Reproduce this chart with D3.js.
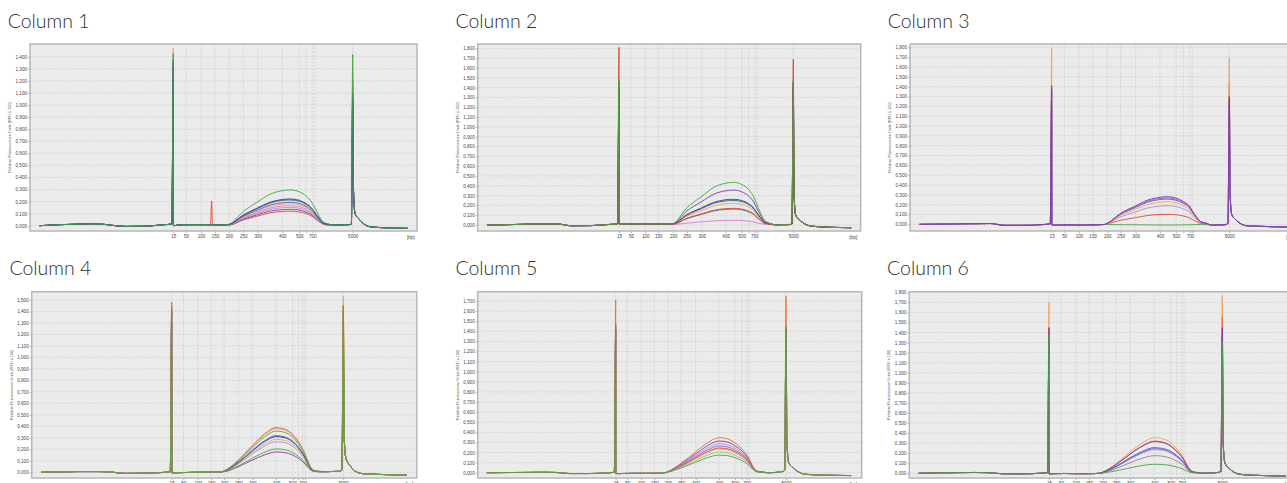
<!DOCTYPE html>
<html>
<head>
<meta charset="utf-8">
<title>Electropherograms, columns 1-6</title>
<script src="https://d3js.org/d3.v7.min.js"></script>
<style>
body { margin: 0; background: #fff; }
svg { display: block; }
.title { font-family: Lato, 'Open Sans', sans-serif; font-size: 19.5px; fill: #2f2f2f; font-weight: 300; }
.axis text { font-family: 'Liberation Sans', Arial, sans-serif; font-size: 4.6px; fill: #444; }
.axis line { stroke: #666; stroke-width: 0.5; }
.axis path { display: none; }
.ytitle { font-family: 'Liberation Sans', Arial, sans-serif; font-size: 3.9px; fill: #555; }
.grid { stroke: #c6c6c6; stroke-width: 0.6; stroke-dasharray: 2,1.5; }
.trace { fill: none; stroke-width: 0.9; }
</style>
</head>
<body>
<svg width="1287" height="483"></svg>

<script>
// ---- data ----
var panelTitles = ["Column 1", "Column 2", "Column 3", "Column 4", "Column 5", "Column 6"];
var yAxisTitle = "Relative Fluorescence Units [RFU x 100]";
var unitLabel = "[bp]";

// y axis: highest labelled tick, and visible domain (RFU x 100 / 10)
var yTopTick = [1.4, 1.8, 1.8, 1.5, 1.7, 1.8];
var yLow  = [-0.044, -0.061, -0.068, -0.050, -0.052, -0.047];
var yHigh = [1.505, 1.844, 1.834, 1.572, 1.792, 1.806];

// size ladder (bp) and where each panel places it (% of run)
var ladderBp = [15, 50, 100, 150, 200, 250, 300, 400, 500, 600, 700, 800, 5000];
var ladderLabels = ["15", "50", "100", "150", "200", "250", "300", "400", "500", "", "700", "", "5000"];
var ladderPos = [
  [37.03, 40.31, 44.19, 47.80, 51.42, 55.12, 58.84, 65.19, 69.59, 71.32, 72.95, 73.64, 83.39],
  [36.89, 40.03, 43.76, 47.15, 51.07, 54.57, 58.49, 64.75, 68.93, 70.76, 72.22, 72.85, 82.40],
  [36.61, 39.87, 43.67, 47.21, 50.98, 54.44, 58.32, 64.60, 68.73, 70.62, 72.35, 72.95, 82.51],
  [36.36, 39.38, 43.12, 46.57, 49.95, 53.66, 57.30, 63.45, 67.79, 69.25, 70.39, 71.00, 80.94],
  [35.94, 38.96, 42.53, 45.99, 49.48, 52.94, 56.77, 62.84, 67.00, 68.75, 70.05, 70.65, 80.29],
  [36.10, 39.20, 43.00, 46.43, 49.97, 53.41, 57.03, 63.31, 67.60, 69.10, 70.39, 71.00, 80.88]
];
var unitPos = [98.4, 98.1, 98.2, 98.1, 97.8, 98.1];

// shared baseline (all samples in one column overlap)
var leftBp  = [1, 3, 5, 7, 8.5, 10, 12, 14, 14.85];
var midBp   = [15.3, 17, 30, 60, 100, 150, 190];
var rightBp = [3000, 4500, 4850];
var tailBp  = [5060, 5180, 5450, 5800, 6300, 7200, 8300, 9300];

var baseLeft = [
  [0, 0.008, 0.013, 0.016, 0.004, -0.006, -0.004, 0.008, 0.014],
  [0, 0.003, 0.008, 0.012, 0.010, -0.008, -0.006, 0.006, 0.012],
  [0, 0.002, 0.004, 0.006, 0.008, -0.010, -0.010, -0.003, 0.005],
  [0, 0.003, 0.006, 0.006, 0.002, -0.010, -0.008, -0.002, 0.004],
  [0, 0.002, 0.003, 0.005, 0.003, -0.008, -0.008, -0.002, 0.005],
  [0, 0.004, 0.006, 0.008, 0.006, -0.005, -0.006, 0.000, 0.006]
];
var baseMid = [
  [0.004, 0.000, 0.006, 0.008, 0.008, 0.007, 0.007],
  [0.012, 0.008, 0.010, 0.010, 0.012, 0.010, 0.010],
  [-0.005, -0.008, -0.008, -0.006, -0.008, -0.006, -0.002],
  [0.000, -0.005, -0.004, -0.002, 0.000, 0.000, 0.003],
  [-0.005, -0.008, -0.008, -0.006, -0.005, -0.005, 0.000],
  [-0.005, -0.006, -0.004, -0.002, -0.004, -0.004, 0.000]
];
var baseRight = [
  [0.006, 0.008, 0.012],
  [0.002, 0.004, 0.012],
  [-0.008, -0.005, 0.010],
  [0.005, 0.008, 0.020],
  [0.000, 0.010, 0.025],
  [0.000, 0.008, 0.018]
];
var baseTail = [
  [0.30, 0.10, 0.060, 0.020, -0.008, -0.016, -0.020, -0.022],
  [0.30, 0.10, 0.055, 0.015, -0.010, -0.020, -0.025, -0.028],
  [0.30, 0.10, 0.050, 0.010, -0.015, -0.020, -0.025, -0.028],
  [0.30, 0.12, 0.060, 0.010, -0.012, -0.018, -0.022, -0.025],
  [0.30, 0.10, 0.050, 0.010, -0.015, -0.022, -0.026, -0.028],
  [0.30, 0.10, 0.050, 0.010, -0.012, -0.020, -0.025, -0.028]
];

// library smear, sampled at these sizes
var humpBp = [200, 250, 300, 350, 400, 450, 500, 600, 700, 800, 1200, 1700, 2400];

// each sample: [dye colour, 15 bp marker height, 5000 bp marker height, smear values]
var column1 = [
  ["red",      1.25, 1.20, [0.005, 0.048, 0.080, 0.106, 0.118, 0.120, 0.114, 0.100, 0.076, 0.059, 0.036, 0.013, 0.004]],
  ["purple",   1.30, 1.15, [0.006, 0.054, 0.091, 0.120, 0.133, 0.136, 0.129, 0.113, 0.086, 0.067, 0.041, 0.015, 0.006]],
  ["lavender", 1.32, 1.10, [0.008, 0.061, 0.102, 0.134, 0.149, 0.152, 0.144, 0.126, 0.096, 0.074, 0.046, 0.017, 0.008]],
  ["pink",     1.35, 1.20, [0.008, 0.066, 0.111, 0.146, 0.163, 0.166, 0.158, 0.138, 0.105, 0.081, 0.050, 0.018, 0.008]],
  ["orange",   1.47, 1.27, [0.010, 0.073, 0.122, 0.160, 0.178, 0.182, 0.173, 0.151, 0.115, 0.089, 0.055, 0.020, 0.010]],
  ["violet",   1.30, 1.00, [0.010, 0.078, 0.130, 0.171, 0.190, 0.194, 0.184, 0.161, 0.122, 0.095, 0.058, 0.021, 0.010]],
  ["teal",     1.35, 1.10, [0.010, 0.085, 0.143, 0.187, 0.209, 0.213, 0.202, 0.177, 0.134, 0.104, 0.064, 0.023, 0.010]],
  ["navy",     1.38, 1.05, [0.010, 0.088, 0.148, 0.194, 0.217, 0.221, 0.210, 0.183, 0.139, 0.108, 0.066, 0.024, 0.010]],
  ["green",    1.43, 1.42, [0.012, 0.118, 0.198, 0.260, 0.290, 0.296, 0.281, 0.246, 0.186, 0.145, 0.089, 0.033, 0.012]]
];
// stray peak in the red sample of column 1
var column1RedPeakBp = [134, 138, 141];
var column1RedPeakVal = [0.008, 0.205, 0.006];

var column2 = [
  ["pink",   1.20, 1.30, [0.005, 0.019, 0.032, 0.042, 0.047, 0.048, 0.046, 0.040, 0.030, 0.024, 0.014, 0.008, 0.005]],
  ["blue",   1.30, 1.35, [0.010, 0.065, 0.109, 0.143, 0.160, 0.163, 0.155, 0.135, 0.103, 0.080, 0.049, 0.018, 0.008]],
  ["orange", 1.35, 1.40, [0.011, 0.088, 0.148, 0.194, 0.217, 0.221, 0.210, 0.183, 0.139, 0.108, 0.066, 0.024, 0.010]],
  ["teal",   1.40, 1.45, [0.012, 0.100, 0.168, 0.220, 0.245, 0.250, 0.238, 0.208, 0.158, 0.123, 0.075, 0.028, 0.010]],
  ["navy",   1.40, 1.45, [0.012, 0.105, 0.176, 0.231, 0.257, 0.262, 0.249, 0.217, 0.165, 0.128, 0.079, 0.029, 0.010]],
  ["purple", 1.45, 1.40, [0.014, 0.142, 0.239, 0.313, 0.349, 0.356, 0.338, 0.295, 0.224, 0.174, 0.107, 0.039, 0.012]],
  ["red",    1.81, 1.69, [0.010, 0.068, 0.114, 0.150, 0.167, 0.170, 0.162, 0.141, 0.107, 0.083, 0.051, 0.019, 0.008]],
  ["green",  1.48, 1.48, [0.015, 0.174, 0.291, 0.383, 0.426, 0.435, 0.413, 0.361, 0.274, 0.213, 0.131, 0.048, 0.015]]
];
var column3 = [
  ["green",    1.00, 1.00, [-0.003, -0.004, -0.005, -0.006, -0.007, -0.007, -0.007, -0.006, -0.005, -0.004, -0.003, -0.003, -0.003]],
  ["red",      1.20, 1.44, [0.005, 0.041, 0.068, 0.090, 0.100, 0.102, 0.097, 0.085, 0.064, 0.050, 0.031, 0.011, 0.004]],
  ["lavender", 1.30, 1.20, [0.008, 0.076, 0.127, 0.167, 0.186, 0.190, 0.181, 0.158, 0.120, 0.093, 0.057, 0.021, 0.008]],
  ["orange",   1.79, 1.70, [0.010, 0.092, 0.154, 0.202, 0.225, 0.230, 0.219, 0.191, 0.145, 0.113, 0.069, 0.025, 0.008]],
  ["violet",   1.35, 1.25, [0.010, 0.103, 0.172, 0.226, 0.252, 0.257, 0.244, 0.213, 0.162, 0.126, 0.077, 0.028, 0.010]],
  ["purple2",  1.38, 1.28, [0.010, 0.107, 0.180, 0.236, 0.263, 0.268, 0.255, 0.222, 0.169, 0.131, 0.080, 0.029, 0.010]],
  ["purple",   1.41, 1.30, [0.010, 0.112, 0.188, 0.247, 0.275, 0.281, 0.267, 0.233, 0.177, 0.138, 0.084, 0.031, 0.010]]
];
var column4 = [
  ["purple",   1.30, 1.30, [0.005, 0.048, 0.106, 0.150, 0.177, 0.172, 0.150, 0.122, 0.092, 0.073, 0.035, 0.009, 0.004]],
  ["green",    1.30, 1.35, [0.006, 0.055, 0.122, 0.173, 0.203, 0.197, 0.173, 0.140, 0.106, 0.083, 0.041, 0.010, 0.004]],
  ["lavender", 1.35, 1.35, [0.008, 0.072, 0.160, 0.226, 0.266, 0.258, 0.226, 0.184, 0.138, 0.109, 0.053, 0.013, 0.005]],
  ["orange",   1.40, 1.40, [0.009, 0.077, 0.172, 0.244, 0.287, 0.278, 0.244, 0.198, 0.149, 0.118, 0.057, 0.014, 0.006]],
  ["navy",     1.40, 1.10, [0.009, 0.084, 0.186, 0.264, 0.310, 0.301, 0.264, 0.214, 0.161, 0.127, 0.062, 0.016, 0.006]],
  ["blue",     1.42, 1.10, [0.010, 0.086, 0.191, 0.271, 0.319, 0.309, 0.271, 0.220, 0.166, 0.131, 0.064, 0.016, 0.006]],
  ["red",      1.48, 1.45, [0.012, 0.105, 0.233, 0.330, 0.388, 0.376, 0.330, 0.268, 0.202, 0.159, 0.078, 0.019, 0.008]],
  ["orange",   1.46, 1.53, [0.011, 0.103, 0.228, 0.323, 0.380, 0.369, 0.323, 0.262, 0.198, 0.156, 0.076, 0.019, 0.008]],
  ["green",    1.45, 1.45, [0.011, 0.097, 0.215, 0.305, 0.359, 0.348, 0.305, 0.248, 0.187, 0.147, 0.072, 0.018, 0.007]]
];
var column5 = [
  ["orange",     1.35, 1.35, [0.007, 0.063, 0.141, 0.200, 0.235, 0.228, 0.200, 0.162, 0.122, 0.096, 0.047, 0.012, 0.005]],
  ["red",        1.40, 1.40, [0.008, 0.066, 0.147, 0.208, 0.245, 0.238, 0.208, 0.169, 0.127, 0.100, 0.049, 0.012, 0.005]],
  ["purple2",    1.40, 1.40, [0.008, 0.072, 0.159, 0.225, 0.265, 0.257, 0.225, 0.183, 0.138, 0.109, 0.053, 0.013, 0.005]],
  ["lavender",   1.42, 1.40, [0.009, 0.077, 0.172, 0.244, 0.287, 0.278, 0.244, 0.198, 0.149, 0.118, 0.057, 0.014, 0.006]],
  ["purple",     1.45, 1.42, [0.010, 0.085, 0.188, 0.267, 0.314, 0.305, 0.267, 0.217, 0.163, 0.129, 0.063, 0.016, 0.006]],
  ["lightgreen", 1.45, 1.42, [0.006, 0.055, 0.123, 0.174, 0.205, 0.199, 0.174, 0.141, 0.107, 0.084, 0.041, 0.010, 0.004]],
  ["orangered",  1.71, 1.75, [0.011, 0.094, 0.208, 0.295, 0.347, 0.337, 0.295, 0.239, 0.180, 0.142, 0.069, 0.017, 0.007]],
  ["green",      1.48, 1.45, [0.005, 0.047, 0.105, 0.149, 0.175, 0.170, 0.149, 0.121, 0.091, 0.072, 0.035, 0.009, 0.004]]
];
var column6 = [
  ["mauve",     1.30, 1.30, [0.005, 0.047, 0.105, 0.149, 0.175, 0.170, 0.149, 0.121, 0.091, 0.072, 0.035, 0.009, 0.004]],
  ["lavender",  1.32, 1.35, [0.007, 0.063, 0.141, 0.200, 0.235, 0.228, 0.200, 0.162, 0.122, 0.096, 0.047, 0.012, 0.005]],
  ["purple2",   1.35, 1.38, [0.008, 0.066, 0.147, 0.208, 0.245, 0.238, 0.208, 0.169, 0.127, 0.100, 0.049, 0.012, 0.005]],
  ["blue",      1.35, 1.40, [0.008, 0.069, 0.153, 0.217, 0.255, 0.247, 0.217, 0.176, 0.133, 0.105, 0.051, 0.013, 0.005]],
  ["orange",    1.70, 1.77, [0.011, 0.096, 0.212, 0.301, 0.354, 0.343, 0.301, 0.244, 0.184, 0.145, 0.071, 0.018, 0.007]],
  ["orangered", 1.42, 1.55, [0.010, 0.087, 0.193, 0.273, 0.321, 0.311, 0.273, 0.221, 0.167, 0.132, 0.064, 0.016, 0.006]],
  ["purple",    1.45, 1.45, [0.010, 0.085, 0.189, 0.268, 0.315, 0.306, 0.268, 0.217, 0.164, 0.129, 0.063, 0.016, 0.006]],
  ["green",     1.38, 1.30, [0.003, 0.024, 0.054, 0.077, 0.090, 0.087, 0.077, 0.062, 0.047, 0.037, 0.018, 0.005, 0.002]]
];
var columns = [column1, column2, column3, column4, column5, column6];

// ---- styles and layout ----
var palette = {
  green: "#44a447", lightgreen: "#86c977", navy: "#2b3c88", teal: "#2e6576",
  blue: "#3f5fc0", violet: "#6550c4", purple: "#7a3aa6", purple2: "#8d5fcc",
  lavender: "#a990da", pink: "#d07fcd", orange: "#f4a24e", red: "#e6452e",
  orangered: "#ef6b3b", mauve: "#9a7b86"
};

var frames = [
  {x: 30,    y: 44,    w: 387, h: 187},
  {x: 477.7, y: 44,    w: 383, h: 187},
  {x: 910,   y: 44,    w: 387, h: 187},
  {x: 31.7,  y: 291.7, w: 385, h: 186.3},
  {x: 477.7, y: 291.7, w: 384, h: 186.3},
  {x: 909.3, y: 291.7, w: 387, h: 186.3}
];

var svg = d3.select("svg");
var comma = d3.formatLocale({decimal: ",", thousands: ".", grouping: [3], currency: ["", ""]}).format(".3f");

columns.forEach(function (samples, p) {
  var f = frames[p];
  var g = svg.append("g");

  var x = d3.scaleLinear()
    .domain([0].concat(ladderBp, [10000]))
    .range([f.x].concat(ladderPos[p].map(function (v) { return f.x + v / 100 * f.w; }), [f.x + f.w]));
  var y = d3.scaleLinear().domain([yLow[p], yHigh[p]]).range([f.y + f.h, f.y]);

  var yTicks = d3.range(0, Math.round(yTopTick[p] * 10) + 1).map(function (i) { return i / 10; });

  g.append("text").attr("class", "title")
    .attr("x", f.x - 22.3).attr("y", f.y - 16.5)
    .text(panelTitles[p]);

  g.append("rect").attr("x", f.x).attr("y", f.y).attr("width", f.w).attr("height", f.h)
    .attr("fill", "#ebebeb");

  // dashed grid
  g.selectAll("line.hgrid").data(yTicks).enter().append("line").attr("class", "grid hgrid")
    .attr("x1", f.x).attr("x2", f.x + f.w)
    .attr("y1", function (d) { return y(d); }).attr("y2", function (d) { return y(d); });
  g.selectAll("line.vgrid").data(ladderBp).enter().append("line").attr("class", "grid vgrid")
    .attr("x1", function (d) { return x(d); }).attr("x2", function (d) { return x(d); })
    .attr("y1", f.y).attr("y2", f.y + f.h);

  // axes
  g.append("g").attr("class", "axis").attr("transform", "translate(" + f.x + ",0)")
    .call(d3.axisLeft(y).tickValues(yTicks).tickFormat(comma).tickSize(2).tickPadding(1));
  g.append("g").attr("class", "axis").attr("transform", "translate(0," + (f.y + f.h) + ")")
    .call(d3.axisBottom(x).tickValues(ladderBp)
      .tickFormat(function (d, i) { return ladderLabels[i]; })
      .tickSize(2).tickPadding(1.5));
  g.append("text").attr("class", "axis")
    .attr("x", f.x + unitPos[p] / 100 * f.w).attr("y", f.y + f.h + 7.5)
    .attr("text-anchor", "middle")
    .style("font-family", "'Liberation Sans', Arial, sans-serif").style("font-size", "4.6px").style("fill", "#444")
    .text(unitLabel);

  g.append("text").attr("class", "ytitle")
    .attr("transform", "translate(" + (f.x - 19) + "," + (f.y + f.h / 2) + ") rotate(-90)")
    .attr("text-anchor", "middle")
    .text(yAxisTitle);

  // traces
  var clipId = "clip" + p;
  g.append("clipPath").attr("id", clipId).append("rect")
    .attr("x", f.x).attr("y", f.y).attr("width", f.w).attr("height", f.h);

  var line = d3.line()
    .x(function (d) { return x(d[0]); })
    .y(function (d) { return y(d[1]); })
    .curve(d3.curveMonotoneX);

  var traces = samples.map(function (s, k) {
    var pts = [];
    leftBp.forEach(function (b, i) { pts.push([b, baseLeft[p][i]]); });
    pts.push([15, s[1]]);
    midBp.forEach(function (b, i) { pts.push([b, baseMid[p][i]]); });
    if (p === 0 && s[0] === "red") {
      column1RedPeakBp.forEach(function (b, i) { pts.push([b, column1RedPeakVal[i]]); });
    }
    humpBp.forEach(function (b, i) { pts.push([b, s[3][i]]); });
    rightBp.forEach(function (b, i) { pts.push([b, baseRight[p][i]]); });
    pts.push([5000, s[2]]);
    tailBp.forEach(function (b, i) { pts.push([b, baseTail[p][i]]); });
    pts.sort(function (a, b) { return a[0] - b[0]; });
    return {color: s[0], pts: pts};
  });

  g.append("g").attr("clip-path", "url(#" + clipId + ")")
    .selectAll("path.trace").data(traces).enter().append("path")
    .attr("class", "trace")
    .attr("stroke", function (d) { return palette[d.color]; })
    .attr("d", function (d) { return line(d.pts); });

  g.append("rect").attr("x", f.x).attr("y", f.y).attr("width", f.w).attr("height", f.h)
    .attr("fill", "none").attr("stroke", "#b7b7b7").attr("stroke-width", 1.5);
});
</script>
</body>
</html>
